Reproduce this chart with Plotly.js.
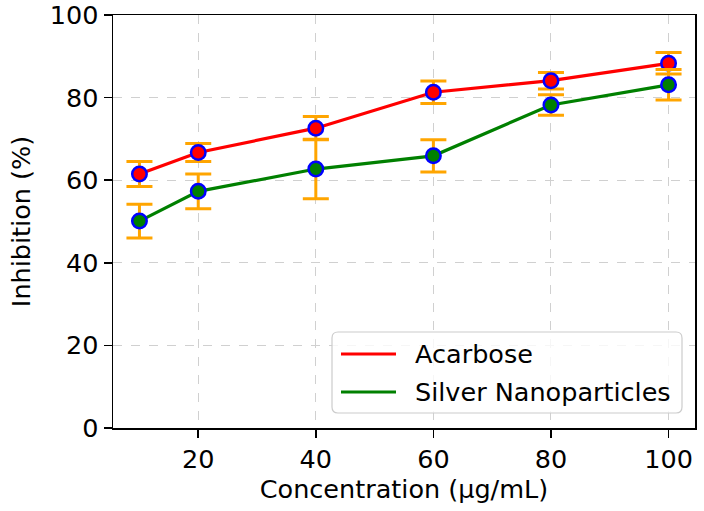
<!DOCTYPE html>
<html>
<head>
<meta charset="utf-8">
<script src="https://cdn.plot.ly/plotly-3.0.1.min.js"></script>
<style>html,body{margin:0;padding:0;background:#fff;}#chart{width:704px;height:511px;}</style>
</head>
<body>
<div id="chart"></div>
<script>
const concentration = [10, 20, 40, 60, 80, 100];
const acarbose = [61.5, 66.7, 72.6, 81.3, 84.1, 88.3];
const acarboseErr = [3.0, 2.2, 2.8, 2.7, 2.0, 2.6];
const silver = [50.1, 57.3, 62.7, 65.9, 78.2, 83.1];
const silverErr = [4.1, 4.2, 7.2, 3.9, 2.5, 3.7];
const seriesNames = ['Acarbose', 'Silver Nanoparticles'];
const seriesColors = ['red', 'green'];
const xTicks = [20, 40, 60, 80, 100];
const yTicks = [0, 20, 40, 60, 80, 100];

const FONT = "DejaVu Sans";
const W = 704, H = 511;
const M = {l: 113, r: 9, t: 15, b: 83};
const PW = W - M.l - M.r, PH = H - M.t - M.b;

function lineTrace(y, color, name) {
  return {x: concentration, y: y, mode: 'lines', name: name,
    line: {color: color, width: 3.2}, showlegend: false, hoverinfo: 'skip'};
}
function markTrace(y, err, fill) {
  return {x: concentration, y: y, mode: 'markers', showlegend: false,
    marker: {size: 14.5, color: fill, line: {color: 'blue', width: 2.5}},
    error_y: {type: 'data', array: err, visible: true, color: 'orange', thickness: 3, width: 13}};
}

const data = [
  lineTrace(acarbose, seriesColors[0], seriesNames[0]),
  lineTrace(silver, seriesColors[1], seriesNames[1]),
  markTrace(acarbose, acarboseErr, seriesColors[0]),
  markTrace(silver, silverErr, seriesColors[1])
];

const axisCommon = {
  showline: true, linecolor: 'black', linewidth: 1.5, mirror: true,
  ticks: 'outside', ticklen: 8, tickwidth: 1.5, tickcolor: 'black',
  showgrid: true, gridcolor: '#d0d0d0', griddash: 'dash', gridwidth: 1,
  zeroline: false, ticklabeloverflow: 'allow',
  tickfont: {family: FONT, size: 25.5, color: 'black'}
};

// custom legend (pixel positions converted to paper coords)
function px(xp) { return (xp - M.l) / PW; }
function py(yp) { return (H - M.b - yp) / PH; }
const bx0 = px(332), bx1 = px(682), by0 = py(413), by1 = py(332);
const rx = 6 / PW, ry = 6 / PH;
const boxPath = `M ${bx0+rx},${by0} L ${bx1-rx},${by0} Q ${bx1},${by0} ${bx1},${by0+ry} L ${bx1},${by1-ry} Q ${bx1},${by1} ${bx1-rx},${by1} L ${bx0+rx},${by1} Q ${bx0},${by1} ${bx0},${by1-ry} L ${bx0},${by0+ry} Q ${bx0},${by0} ${bx0+rx},${by0} Z`;
const legendRows = [354, 392];
const shapes = [{type: 'path', xref: 'paper', yref: 'paper', path: boxPath,
  fillcolor: 'rgba(255,255,255,0.8)', line: {color: '#cccccc', width: 1.2}, layer: 'above'}];
const annotations = [];
seriesNames.forEach((n, i) => {
  shapes.push({type: 'line', xref: 'paper', yref: 'paper', x0: px(341), x1: px(396),
    y0: py(legendRows[i]), y1: py(legendRows[i]), line: {color: seriesColors[i], width: 3.2}, layer: 'above'});
  annotations.push({xref: 'paper', yref: 'paper', x: px(413), y: py(legendRows[i]),
    xanchor: 'left', yanchor: 'middle', text: n, showarrow: false,
    font: {family: FONT, size: 25.5, color: 'black'}});
});

const layout = {
  width: W, height: H,
  margin: M,
  paper_bgcolor: 'white', plot_bgcolor: 'white',
  font: {family: FONT, color: 'black'},
  xaxis: Object.assign({}, axisCommon, {
    range: [5.5, 104.5], tickvals: xTicks, ticktext: xTicks.map(String),
    title: {text: 'Concentration (µg/mL)', font: {family: FONT, size: 25.5}, standoff: 4}
  }),
  yaxis: Object.assign({}, axisCommon, {
    range: [0, 100], tickvals: yTicks, ticktext: yTicks.map(String),
    title: {text: 'Inhibition (%)', font: {family: FONT, size: 25.5}, standoff: 12}
  }),
  shapes: shapes,
  annotations: annotations,
  showlegend: false
};

Plotly.newPlot('chart', data, layout, {staticPlot: true, displayModeBar: false});
</script>
</body>
</html>
